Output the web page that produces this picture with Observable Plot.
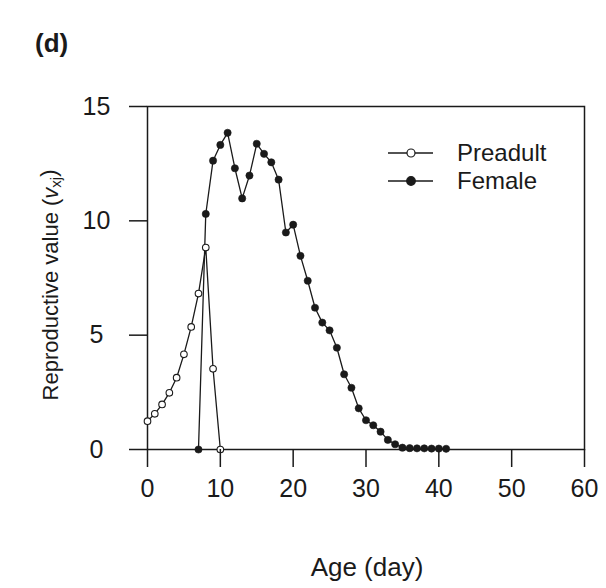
<!DOCTYPE html>
<html><head><meta charset="utf-8">
<script src="https://cdn.jsdelivr.net/npm/d3@7"></script>
<script src="https://cdn.jsdelivr.net/npm/@observablehq/plot@0.6"></script>
<style>
body{margin:0;background:#fff;font-family:"Liberation Sans",Arial,sans-serif;color:#1a1a1a;}
#wrap{position:relative;width:606px;height:588px;overflow:hidden;}
#title{height:60px;box-sizing:border-box;padding-left:35px;padding-top:30px;font-weight:bold;font-size:26px;line-height:26px;}
#legend{position:absolute;left:388px;top:139px;font-size:24px;}
.row{display:flex;align-items:center;height:28px;}
.row svg{display:block;}
</style></head><body>
<div id="wrap"><div id="title">(d)</div><div id="chart"></div><div id="legend"></div></div>
<script>
// Data
const preadultAge = [0,1,2,3,4,5,6,7,8,9,10];
const preadultValue = [1.24,1.56,1.97,2.48,3.14,4.16,5.36,6.82,8.83,3.53,0];
const femaleAge = [7,8,9,10,11,12,13,14,15,16,17,18,19,20,21,22,23,24,25,26,27,28,29,30,31,32,33,34,35,36,37,38,39,40,41];
const femaleValue = [0,10.3,12.63,13.32,13.85,12.3,10.98,11.98,13.37,12.93,12.56,11.8,9.49,9.83,8.47,7.38,6.2,5.55,5.21,4.45,3.29,2.7,1.8,1.28,1.06,0.78,0.42,0.23,0.08,0.06,0.05,0.05,0.04,0.04,0.03];
const xTicks = [0,10,20,30,40,50,60];
const yTicks = [0,5,10,15];
const seriesNames = ["Preadult","Female"];

const preadult = preadultAge.map((a,i)=>({age:a, value:preadultValue[i]}));
const female = femaleAge.map((a,i)=>({age:a, value:femaleValue[i]}));

const ink = "#1a1a1a";
const H = 528;
const chart = Plot.plot({
  width: 606, height: H,
  marginLeft: 147, marginRight: 22, marginTop: 46, marginBottom: 139,
  style: {fontFamily: '"Liberation Sans", Arial, sans-serif', color: ink, background: "#fff"},
  x: {domain: [0,60]},
  y: {domain: [0,15]},
  marks: [
    Plot.frame({stroke: ink, strokeWidth: 1.5}),
    Plot.line(female, {x:"age", y:"value", stroke: ink, strokeWidth: 1.3}),
    Plot.dot(female, {x:"age", y:"value", r: 3.6, fill: ink, stroke: ink, strokeWidth: 0.6}),
    Plot.line(preadult, {x:"age", y:"value", stroke: ink, strokeWidth: 1.3}),
    Plot.dot(preadult, {x:"age", y:"value", r: 3.3, fill: "white", stroke: ink, strokeWidth: 1.1}),
    Plot.axisX({ticks: xTicks, tickSize: 18, tickPadding: 12, fontSize: 25, strokeWidth: 1.5, tickFormat: d=>String(d), label: null}),
    Plot.axisY({ticks: yTicks, tickSize: 18, tickPadding: 33, textAnchor: "middle", fontSize: 25, strokeWidth: 1.5, tickFormat: d=>String(d), label: null})
  ]
});
document.getElementById("chart").appendChild(chart);

const svg = d3.select(chart);
// X axis title
svg.append("text")
  .attr("x", 367).attr("y", 567-60)
  .attr("text-anchor","middle")
  .attr("dominant-baseline","central")
  .attr("font-size", 26)
  .attr("fill", ink)
  .text("Age (day)");

// Y axis title with italic v and subscript xj
const t = svg.append("text")
  .attr("transform", `translate(50,${285-60}) rotate(-90)`)
  .attr("text-anchor","middle")
  .attr("dominant-baseline","central")
  .attr("font-size", 22)
  .attr("fill", ink);
t.append("tspan").text("Reproductive value (");
t.append("tspan").attr("font-style","italic").text("v");
t.append("tspan").attr("font-size",15).attr("dy","0.3em").text("xj");
t.append("tspan").attr("dy","-0.3em").attr("font-size",22).text(")");

// Legend
const legend = d3.select("#legend");
seriesNames.forEach(name => {
  const row = legend.append("div").attr("class","row");
  const s = row.append("svg").attr("width",69).attr("height",28);
  s.append("line").attr("x1",0).attr("x2",45).attr("y1",14).attr("y2",14).attr("stroke",ink).attr("stroke-width",1.5);
  s.append("circle").attr("cx",23).attr("cy",14).attr("r", name==="Female"?4.3:4)
    .attr("fill", name==="Female"?ink:"white").attr("stroke",ink).attr("stroke-width",1.2);
  row.append("span").text(name);
});
</script>
</body></html>
